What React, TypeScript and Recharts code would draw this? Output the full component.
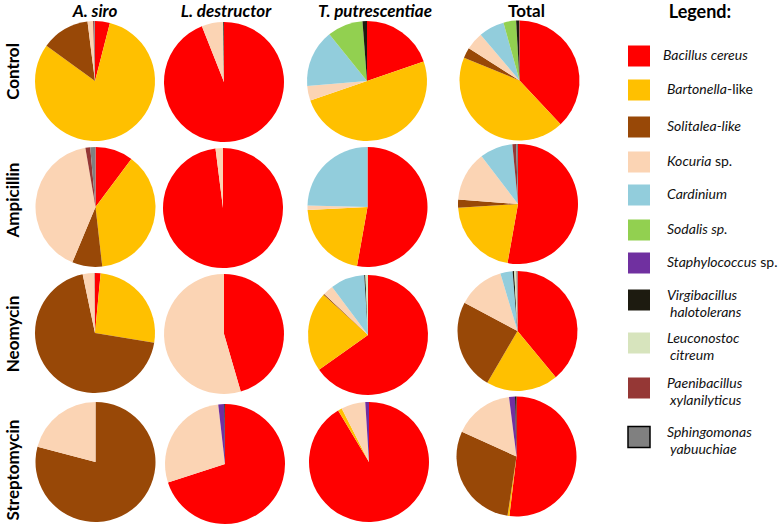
import React from 'react';
import { PieChart, Pie, Cell } from 'recharts';

// ---- DATA ----
const species = [
  'Bacillus cereus',
  'Bartonella-like',
  'Solitalea-like',
  'Kocuria sp.',
  'Cardinium',
  'Sodalis sp.',
  'Staphylococcus sp.',
  'Virgibacillus halotolerans',
  'Leuconostoc citreum',
  'Paenibacillus xylanilyticus',
  'Sphingomonas yabuuchiae',
];
const speciesColors = [
  '#FF0000', '#FFC000', '#984807', '#FBD4B4', '#92CDDC', '#92D050',
  '#7030A0', '#1D1B10', '#D7E4BD', '#953735', '#808080',
];
const hosts = ['A. siro', 'L. destructor', 'T. putrescentiae', 'Total'];
const treatments = ['Control', 'Ampicillin', 'Neomycin', 'Streptomycin'];

// values in species order (%)
const aSiroControl = [4, 81, 13, 1.5, 0, 0, 0, 0, 0, 0.3, 0.2];
const lDestructorControl = [94, 0, 0, 5.8, 0, 0, 0, 0.2, 0, 0, 0];
const tPutrescentiaeControl = [19.7, 50, 0, 4, 15.5, 9.6, 0, 1.2, 0, 0, 0];
const totalControl = [38, 43.2, 2.8, 4.8, 6.9, 3.4, 0, 0.8, 0, 0.1, 0];

const aSiroAmpicillin = [10.2, 38, 8.1, 41, 0, 0, 0, 0, 0, 1.3, 1.4];
const lDestructorAmpicillin = [98, 0, 0, 2, 0, 0, 0, 0, 0, 0, 0];
const tPutrescentiaeAmpicillin = [52.8, 21.4, 0, 1.2, 24.6, 0, 0, 0, 0, 0, 0];
const totalAmpicillin = [52.8, 21.2, 2.2, 13.4, 8.9, 0, 0, 0, 0, 1.0, 0.5];

const aSiroNeomycin = [1.5, 26.1, 69.1, 3.2, 0, 0, 0, 0, 0, 0.1, 0];
const lDestructorNeomycin = [45.5, 0, 0, 54.5, 0, 0, 0, 0, 0, 0, 0];
const tPutrescentiaeNeomycin = [65.2, 21.5, 0.3, 2.8, 9.2, 0, 0, 0.3, 0.7, 0, 0];
const totalNeomycin = [39, 19.4, 24.4, 12.6, 3.3, 0, 0, 0.4, 0.6, 0, 0.3];

const aSiroStreptomycin = [0, 0, 79.1, 20.9, 0, 0, 0, 0, 0, 0, 0];
const lDestructorStreptomycin = [70, 0, 0, 28.2, 0, 0, 1.6, 0.2, 0, 0, 0];
const tPutrescentiaeStreptomycin = [91.4, 1.1, 0, 6.5, 0, 0, 1, 0, 0, 0, 0];
const totalStreptomycin = [51.9, 0.5, 29.4, 16.2, 0, 0, 1.6, 0.4, 0, 0, 0];

const pieGrid = [
  [aSiroControl, lDestructorControl, tPutrescentiaeControl, totalControl],
  [aSiroAmpicillin, lDestructorAmpicillin, tPutrescentiaeAmpicillin, totalAmpicillin],
  [aSiroNeomycin, lDestructorNeomycin, tPutrescentiaeNeomycin, totalNeomycin],
  [aSiroStreptomycin, lDestructorStreptomycin, tPutrescentiaeStreptomycin, totalStreptomycin],
];

// ---- LAYOUT ----
const W = 782;
const H = 527;
const R = 60;
const pieCenters = [
  [[95, 81], [224, 82], [367, 81], [519.5, 80.5]],
  [[95.5, 207], [223, 208], [367.5, 207], [518, 204]],
  [[95, 333], [224, 334], [368, 335], [517.5, 331]],
  [[95.5, 462], [225, 464], [369, 462], [516.5, 456.5]],
];
const titleX = [95, 226, 375, 526.5];
const rowLabelY = [71.5, 200, 334, 470];
const legendY = [56, 90, 127, 162, 195, 230, 263, 300, 343, 388, 437];
const FONT = 'Lato, "Open Sans", sans-serif';

function LegendLabel({ i, x, y }: { i: number; x: number; y: number }) {
  const common = { fontFamily: FONT, fontSize: 14, fill: '#111' } as const;
  switch (i) {
    case 1:
      return (
        <text x={x} y={y + 4} {...common}>
          <tspan fontStyle="italic">Bartonella</tspan>-like
        </text>
      );
    case 3:
      return (
        <text x={x} y={y + 4} {...common}>
          <tspan fontStyle="italic">Kocuria</tspan> sp.
        </text>
      );
    case 6:
      return (
        <text x={x} y={y + 4} {...common}>
          <tspan fontStyle="italic">Staphylococcus</tspan> sp.
        </text>
      );
    default: {
      const parts = species[i].split(' ');
      if (i >= 7) {
        return (
          <text {...common} fontStyle="italic">
            <tspan x={x} y={y}>{parts[0]}</tspan>
            <tspan x={x + 3} y={y + 17}>{parts[1]}</tspan>
          </text>
        );
      }
      return (
        <text x={x} y={y + 4} {...common} fontStyle="italic">
          {species[i]}
        </text>
      );
    }
  }
}

export default function App() {
  return (
    <div style={{ position: 'absolute', left: 0, top: 0, width: W, height: H, background: '#fff' }}>
      <PieChart width={W} height={H} margin={{ top: 0, right: 0, bottom: 0, left: 0 }}>
        {pieGrid.map((row, ri) =>
          row.map((vals, ci) => {
            const data = species.map((name, k) => ({ name, value: vals[k] }));
            const [cx, cy] = pieCenters[ri][ci];
            return (
              <Pie
                key={`${ri}-${ci}`}
                data={data}
                dataKey="value"
                nameKey="name"
                cx={cx}
                cy={cy}
                outerRadius={R}
                innerRadius={0}
                startAngle={90}
                endAngle={-270}
                stroke="none"
                isAnimationActive={false}
              >
                {data.map((d, k) => (
                  <Cell key={k} fill={speciesColors[k]} stroke="none" />
                ))}
              </Pie>
            );
          })
        )}
      </PieChart>
      <svg
        width={W}
        height={H}
        style={{ position: 'absolute', left: 0, top: 0, pointerEvents: 'none' }}
      >
        {hosts.map((h, i) => (
          <text
            key={h}
            x={titleX[i]}
            y={17}
            textAnchor="middle"
            fontFamily={FONT}
            fontSize={17}
            fontWeight="bold"
            fontStyle={i < 3 ? 'italic' : 'normal'}
            fill="#000"
          >
            {h}
          </text>
        ))}
        {treatments.map((t, i) => (
          <text
            key={t}
            x={19}
            y={rowLabelY[i]}
            transform={`rotate(-90, 19, ${rowLabelY[i]})`}
            textAnchor="middle"
            fontFamily={FONT}
            fontSize={17}
            fontWeight="bold"
            fill="#000"
          >
            {t}
          </text>
        ))}
        <text x={700} y={18} textAnchor="middle" fontFamily={FONT} fontSize={18} fontWeight="bold" fill="#000">
          Legend:
        </text>
        {species.map((s, i) => (
          <g key={s}>
            <rect
              x={628}
              y={legendY[i] - 10.5}
              width={22}
              height={21}
              fill={speciesColors[i]}
              stroke={i === 10 ? '#000' : 'none'}
              strokeWidth={1.5}
            />
            <LegendLabel i={i} x={i === 0 ? 663 : 667} y={legendY[i]} />
          </g>
        ))}
      </svg>
    </div>
  );
}
